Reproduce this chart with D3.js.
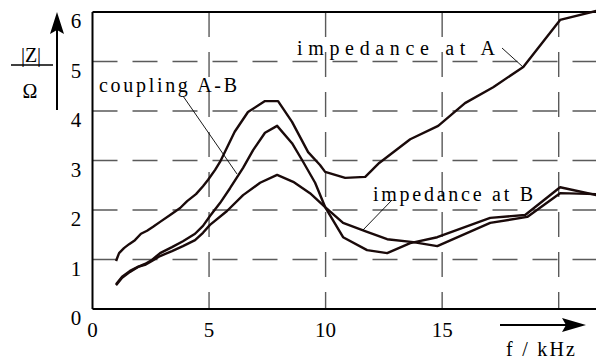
<!DOCTYPE html>
<html>
<head>
<meta charset="utf-8">
<script src="https://cdn.jsdelivr.net/npm/d3@7"></script>
</head>
<body style="margin:0">
<svg></svg>
<script>
const width = 596;
const height = 360;

// impedance at A
const freqA = [1.01, 1.14, 1.35, 1.57, 1.82, 2.08, 2.34, 2.6, 2.9, 3.33, 3.76, 4.06, 4.44, 4.74, 4.96, 5.26, 5.47, 6.1, 6.67, 7.4, 7.96, 8.56, 9.25, 9.76, 9.98, 10.84, 11.7, 12.3, 13.63, 14.83, 15.98, 17.19, 18.48, 20.06, 21.61];
const zA = [0.97, 1.13, 1.23, 1.31, 1.39, 1.52, 1.58, 1.66, 1.76, 1.9, 2.04, 2.18, 2.32, 2.48, 2.61, 2.81, 2.97, 3.58, 3.98, 4.2, 4.2, 3.78, 3.17, 2.91, 2.77, 2.65, 2.67, 2.95, 3.43, 3.7, 4.16, 4.48, 4.89, 5.84, 6.02];

// coupling A-B
const freqAB = [1.01, 1.27, 1.61, 1.95, 2.25, 2.55, 2.9, 3.41, 3.88, 4.4, 4.74, 5.04, 5.47, 5.9, 6.46, 6.89, 7.4, 7.92, 8.56, 8.99, 9.55, 9.98, 10.75, 11.78, 12.64, 13.63, 14.79, 17.06, 18.56, 20.06, 21.61];
const zAB = [0.48, 0.63, 0.75, 0.85, 0.91, 0.99, 1.13, 1.25, 1.37, 1.52, 1.68, 1.88, 2.14, 2.44, 2.85, 3.21, 3.56, 3.7, 3.35, 3.01, 2.55, 2.06, 1.45, 1.19, 1.13, 1.33, 1.45, 1.84, 1.9, 2.46, 2.3];

// impedance at B
const freqB = [1.01, 1.27, 1.61, 1.95, 2.25, 2.55, 2.9, 3.41, 3.88, 4.4, 4.74, 5.04, 5.77, 6.46, 7.19, 7.92, 8.61, 9.33, 9.98, 10.75, 11.78, 12.64, 13.76, 14.79, 17.06, 18.65, 20.06, 21.61];
const zB = [0.5, 0.65, 0.77, 0.85, 0.89, 0.97, 1.07, 1.17, 1.27, 1.39, 1.54, 1.7, 1.98, 2.3, 2.55, 2.71, 2.57, 2.34, 2.06, 1.74, 1.56, 1.41, 1.35, 1.27, 1.74, 1.86, 2.34, 2.32];

const xTicks = [0, 5, 10, 15];
const xGrid = [5, 10, 15, 20];
const yTicks = [0, 1, 2, 3, 4, 5, 6];

const svg = d3.select("svg").attr("width", width).attr("height", height);

const x = d3.scaleLinear().domain([0, 21.6]).range([92.5, 596]);
const y = d3.scaleLinear().domain([0, 6]).range([309, 12]);

// grid
svg.append("g")
	.selectAll("line")
	.data(yTicks.filter(d => d > 0 && d < 6))
	.join("line")
	.attr("x1", x(0)).attr("x2", width)
	.attr("y1", d => y(d)).attr("y2", d => y(d))
	.attr("stroke", "#5a5a5a")
	.attr("stroke-width", 1.4)
	.attr("stroke-dasharray", "25,15");

svg.append("g")
	.selectAll("line")
	.data(xGrid)
	.join("line")
	.attr("x1", d => x(d)).attr("x2", d => x(d))
	.attr("y1", y(6)).attr("y2", y(0))
	.attr("stroke", "#5a5a5a")
	.attr("stroke-width", 1.4)
	.attr("stroke-dasharray", "25,15");

// frame
svg.append("line")
	.attr("x1", x(0)).attr("x2", width)
	.attr("y1", y(6)).attr("y2", y(6))
	.attr("stroke", "#000").attr("stroke-width", 2);
svg.append("line")
	.attr("x1", x(0)).attr("x2", width)
	.attr("y1", y(0)).attr("y2", y(0))
	.attr("stroke", "#000").attr("stroke-width", 2);
svg.append("line")
	.attr("x1", x(0)).attr("x2", x(0))
	.attr("y1", y(6)).attr("y2", y(0))
	.attr("stroke", "#000").attr("stroke-width", 2);

// text helper
function txt(s, px, py, size, anchor) {
	return svg.append("text")
		.attr("x", px)
		.attr("y", py)
		.attr("font-size", size)
		.attr("font-family", "Liberation Serif")
		.attr("text-anchor", anchor || "start")
		.style("font-family", () => `"Liberation Serif"`)
		.text(s);
}

// tick labels
yTicks.forEach(d => txt(String(d), 76, y(d) + 16, 21, "middle"));
xTicks.forEach(d => txt(String(d), x(d), 337, 21, "middle"));

// curves
const line = d3.line()
	.x(d => x(d[0]))
	.y(d => y(d[1]));

const series = [
	[freqA, zA],
	[freqAB, zAB],
	[freqB, zB]
];

series.forEach(s => {
	svg.append("path")
		.attr("d", line(d3.zip(s[0], s[1])))
		.attr("fill", "none")
		.attr("stroke", "#1a0a0a")
		.attr("stroke-width", 2.4)
		.attr("stroke-linejoin", "round");
});

// annotations
function label(s, x0, x1, yb) {
	txt(s, x0, yb, 20)
		.attr("textLength", x1 - x0)
		.attr("lengthAdjust", "spacing");
}
function leader(x1, y1, x2, y2) {
	svg.append("line")
		.attr("x1", x1).attr("y1", y1)
		.attr("x2", x2).attr("y2", y2)
		.attr("stroke", "#000")
		.attr("stroke-width", 0.9);
}

label("impedance at A", 297, 495, 55);
leader(502, 48, 523, 67);
label("coupling A-B", 99, 237, 92);
leader(183, 96, 237, 174);
label("impedance at B", 373, 533, 201);
leader(392, 200, 363, 230);

// y axis label
txt("|Z|", 31, 62, 20, "middle");
svg.append("line")
	.attr("x1", 11).attr("x2", 53).attr("y1", 65).attr("y2", 65)
	.attr("stroke", "#000").attr("stroke-width", 1.5);
txt("Ω", 30, 98, 20, "middle");

svg.append("line")
	.attr("x1", 57).attr("x2", 57).attr("y1", 110).attr("y2", 25)
	.attr("stroke", "#000").attr("stroke-width", 2);
svg.append("path")
	.attr("d", "M57,12 L64,34 L57,30 L50,34 Z")
	.attr("fill", "#000");

// x axis label
svg.append("line")
	.attr("x1", 500).attr("x2", 575).attr("y1", 325).attr("y2", 325)
	.attr("stroke", "#000").attr("stroke-width", 2);
svg.append("path")
	.attr("d", "M586,325 L562,318 L566,325 L562,332 Z")
	.attr("fill", "#000");
txt("f / kHz", 506, 356, 20)
	.attr("textLength", 69)
	.attr("lengthAdjust", "spacing");
</script>
</body>
</html>
